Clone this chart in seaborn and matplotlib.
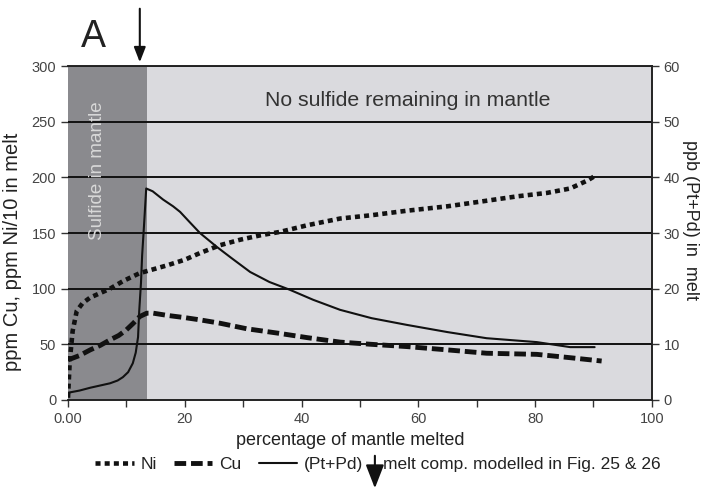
import numpy as np
import pandas as pd
import matplotlib
matplotlib.use('Agg')
from matplotlib import pyplot as plt
import seaborn as sns

# values
ni_x = [0.0, 0.3, 0.8, 1.5, 2.5, 3.8, 5.5, 7.2, 9.5, 12.3, 15, 17, 20, 22.6, 26,
        29.5, 33, 36.3, 41, 46.6, 52, 58, 65, 71.7, 77, 82, 86, 88.9, 90.5]
ni_y = [2, 35, 62, 80, 87, 92, 96, 100, 107, 114, 118, 121, 126, 132, 139,
        144, 148, 151, 157, 163, 166, 170, 174, 179, 183, 186, 190, 197, 202]

cu_x = [0, 2, 3.8, 5.5, 7.2, 8.7, 10, 11.2, 12.3, 13.5, 14.6, 17, 20, 22.6, 26,
        30.6, 36, 41, 46.6, 52, 58, 65, 71.7, 80.3, 86, 91.4]
cu_y = [36, 40, 45, 49, 54, 58, 63, 69, 75, 78, 78, 76, 74, 72, 69,
        64, 60, 56, 52, 50, 48, 45, 42, 41, 38, 35]

ptpd_x = [0, 2, 3.8, 5.5, 7.2, 8.5, 9.4, 10.3, 11.1, 11.6, 12.0, 12.2, 12.5, 12.7,
          13.0, 13.4, 14.5, 16.3, 18, 19.2, 20.8, 22.6, 25.5, 28, 31.2, 34.5, 38,
          42, 46.6, 52, 58, 65, 71.7, 80.3, 86, 90.2]
ptpd_y = [1.3, 1.7, 2.2, 2.6, 3.0, 3.5, 4.1, 5.0, 6.6, 8.5, 11.3, 16, 21, 26,
          31, 38, 37.5, 36, 34.8, 33.8, 32, 30, 27.5, 25.5, 23, 21.2, 19.8,
          18, 16.2, 14.7, 13.5, 12.2, 11.1, 10.4, 9.5, 9.5]

sulfide_out = 13.5  # % melting where sulfide is exhausted
x_ticks = [0, 20, 40, 60, 80, 100]
x_labels = ['0.00', '20', '40', '60', '80', '100']
left_ticks = [0, 50, 100, 150, 200, 250, 300]
right_ticks = [0, 10, 20, 30, 40, 50, 60]

sns.set_style('ticks')
plt.rcParams['font.family'] = ['Liberation Sans', 'DejaVu Sans']

fig = plt.figure(figsize=(7.06, 4.94), dpi=100)
ax = fig.add_axes([0.0963, 0.1903, 0.827, 0.676])
ax.set_facecolor('#dadade')
ax.axvspan(0, sulfide_out, color='#8a8a8e', zorder=0, lw=0)

ni = pd.DataFrame({'x': ni_x, 'y': ni_y})
cu = pd.DataFrame({'x': cu_x, 'y': cu_y})
pt = pd.DataFrame({'x': ptpd_x, 'y': ptpd_y})

sns.lineplot(data=ni, x='x', y='y', ax=ax, color='#111111', lw=3.3,
             linestyle=(0, (1.1, 0.9)), label='Ni', zorder=4)
sns.lineplot(data=cu, x='x', y='y', ax=ax, color='#111111', lw=3.5,
             linestyle=(0, (2.4, 1.0)), label='Cu', zorder=4)

ax.set_xlim(0, 100)
ax.set_ylim(0, 300)
ax.set_xticks(x_ticks)
ax.set_xticklabels(x_labels)
ax.set_xticks([10, 30, 50, 70, 90], minor=True)
ax.set_yticks(left_ticks)
for v in left_ticks[1:]:
    ax.axhline(v, color='#111111', lw=1.4, zorder=2)

ax2 = ax.twinx()
sns.lineplot(data=pt, x='x', y='y', ax=ax2, color='#111111', lw=1.5,
             label='(Pt+Pd)', zorder=4)
ax2.set_ylim(0, 60)
ax2.set_yticks(right_ticks)

for a in (ax, ax2):
    a.set_xlabel('')
    a.set_ylabel('')
    a.tick_params(axis='both', which='both', direction='out', length=5,
                  width=1, color='#333333', labelsize=10.5, labelcolor='#444444')
    for s in a.spines.values():
        s.set_color('#222222')
        s.set_linewidth(1.2)
    if a.get_legend() is not None:
        a.get_legend().remove()
ax.spines['left'].set_visible(False)
ax2.spines['left'].set_visible(False)

ax.set_xlabel('percentage of mantle melted', fontsize=13, color='#222222')
ax.xaxis.set_label_coords(0.483, -0.095)
ax.set_ylabel('ppm Cu, ppm Ni/10 in melt', fontsize=14.5, color='#222222')
ax.yaxis.set_label_coords(-0.079, 0.443)
ax2.set_ylabel('ppb (Pt+Pd) in  melt', fontsize=13, color='#222222', rotation=-90)
ax2.yaxis.label.set_va('center')
ax2.yaxis.label.set_ha('center')
ax2.yaxis.set_label_coords(1.066, 0.54)

ax.text(5.0, 206, 'Sulfide in mantle', rotation=90, ha='center', va='center',
        fontsize=13.5, color='#d8d8d8', zorder=3)
ax.text(58.2, 269, 'No sulfide remaining in mantle', ha='center', va='center',
        fontsize=15.3, color='#333333', zorder=3)

# panel letter and arrows
fig.text(0.132, 0.925, 'A', fontsize=27, color='#222222', ha='center', va='center')
ax.annotate('', xy=(12.3, 1.003), xytext=(12.3, 1.18),
            xycoords=('data', 'axes fraction'),
            arrowprops=dict(arrowstyle='-|>,head_length=0.9,head_width=0.35',
                            color='#111111', lw=1.5), annotation_clip=False)

h1, l1 = ax.get_legend_handles_labels()
h2, l2 = ax2.get_legend_handles_labels()
fig.legend(h1 + h2, l1 + l2, loc='center left', bbox_to_anchor=(0.113, 0.059),
           ncol=3, frameon=False, fontsize=12.5, handlelength=2.2,
           handletextpad=0.4, columnspacing=1.0, labelcolor='#222222')
fig.text(0.5425, 0.059, 'melt comp. modelled in Fig. 25 & 26', fontsize=12.5,
         color='#222222', ha='left', va='center')
fig.patches.append(matplotlib.patches.FancyArrowPatch(
    (0.531, 0.083), (0.531, 0.006), transform=fig.transFigure,
    arrowstyle='-|>,head_length=0.9,head_width=0.35', color='#111111', lw=1.5,
    mutation_scale=16))

fig.savefig('out.png', dpi=100, facecolor='white')
